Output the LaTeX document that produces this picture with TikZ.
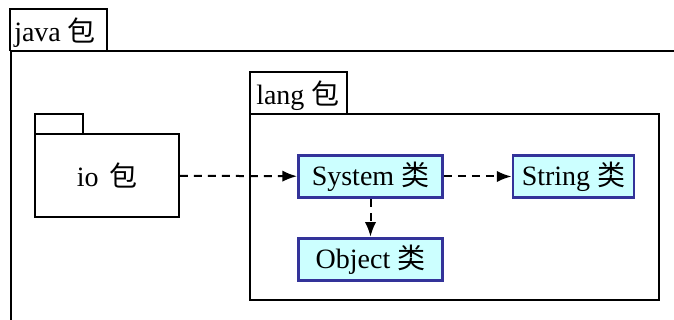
\documentclass[tikz,border=0pt]{standalone}
\usepackage{fontspec}
\setmainfont{Liberation Serif}
\newfontfamily\cjk{Noto Sans CJK SC}
\usetikzlibrary{arrows.meta}
\definecolor{clsfill}{HTML}{CCFFFF}
\definecolor{clsdraw}{HTML}{333399}
\begin{document}
\begin{tikzpicture}[x=0.75pt,y=-0.75pt,
  pkg/.style={draw=black,line width=1.5pt},
  cls/.style={draw=clsdraw,fill=clsfill,line width=2.2pt,minimum width=108pt,minimum height=32pt,inner sep=0pt,font=\fontsize{21}{24}\selectfont},
  dep/.style={draw=black,line width=1.5pt,dash pattern=on 6pt off 4.5pt,-{Latex[length=11pt,width=8.5pt]}},
  lbl/.style={font=\fontsize{21}{24}\selectfont,inner sep=0pt}]
\useasboundingbox (0,0) rectangle (674,320);
\begin{scope}
\clip (0,0) rectangle (674,320);
% java package
\draw[pkg] (10,51) -- (10,9) -- (107,9) -- (107,51);
\draw[pkg] (11,330) -- (11,51) -- (690,51);
\node[lbl,anchor=west] (javal) at (14,33) {java {\cjk 包}};
% lang package
\draw[pkg] (250,114) -- (250,72) -- (347,72) -- (347,114);
\draw[pkg] (250,114) rectangle (659,300);
\node[lbl,anchor=west] (langl) at (256,96) {lang {\cjk 包}};
% io package
\draw[line width=1.3pt] (35,134) -- (35,114) -- (83,114) -- (83,134);
\node[draw=black,line width=1.3pt,minimum width=108pt,minimum height=62.25pt,inner sep=0pt,lbl] (io) at (107,175.5) {io\hspace{8pt}{\cjk 包}};
% classes
\node[cls] (sys) at (370.5,176.5) {System {\cjk 类}};
\node[cls,minimum width=90.75pt] (str) at (573.5,176.5) {String {\cjk 类}};
\node[cls] (obj) at (370.5,259.5) {Object {\cjk 类}};
\draw[dep] (io) -- (sys);
\draw[dep] (sys) -- (str);
\draw[dep] (sys) -- (obj);
\end{scope}
\end{tikzpicture}
\end{document}
